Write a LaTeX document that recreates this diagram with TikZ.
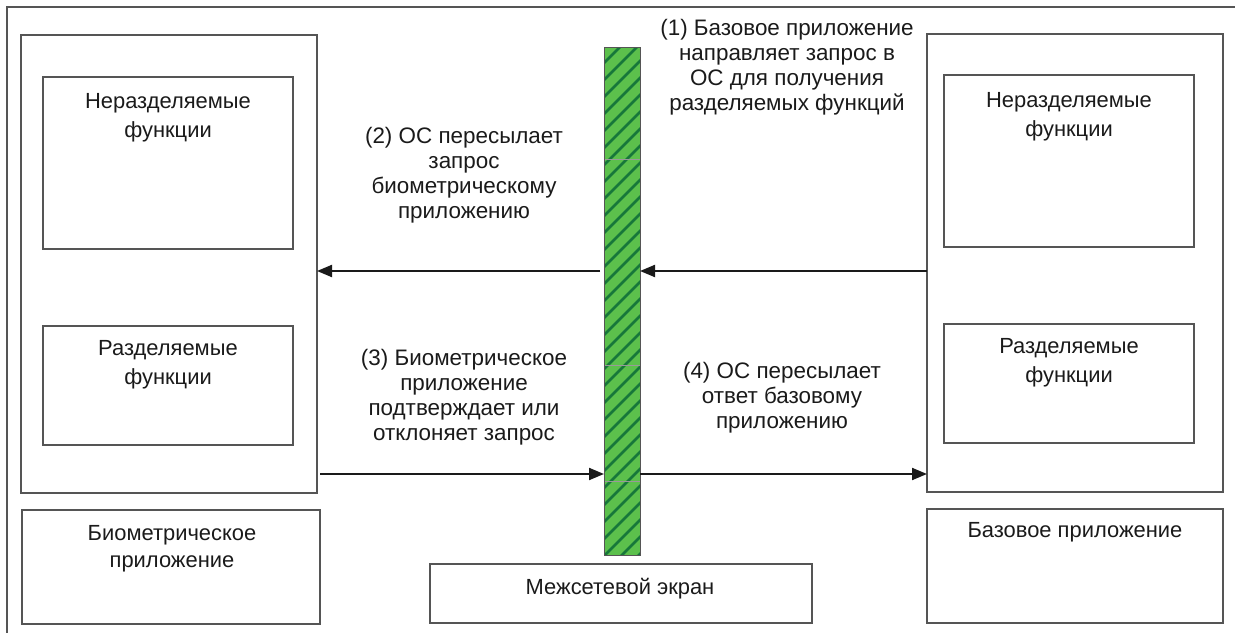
\documentclass[tikz,border=0pt]{standalone}
\usepackage{fontspec}
\setmainfont{Liberation Sans}
\usetikzlibrary{arrows.meta}
\definecolor{frame}{HTML}{555555}
\definecolor{barfill}{HTML}{5CC04C}
\definecolor{barstripe}{HTML}{17773A}
\definecolor{ink}{HTML}{1A1A1A}
\begin{document}
\begin{tikzpicture}[x=1bp,y=-1bp,
  box/.style={draw=frame,line width=1.2bp,inner sep=0pt,outer sep=0pt,anchor=north west},
  lbl/.style={font=\fontsize{22.5}{25}\selectfont,align=center,inner sep=0pt,text=ink},
  boxtext/.style={font=\fontsize{22}{29}\selectfont,align=center,inner sep=0pt,text=ink},
  flow/.style={draw=ink,line width=2bp,-{Triangle[length=15bp,width=12bp]}}]
\useasboundingbox (0,0) rectangle (1235,633);
% outer frame, only its top and left sides fall inside the page
\begin{scope}
  \clip (0,0) rectangle (1235,633);
  \draw[frame,line width=1.2bp] (7,7) rectangle (1260,660);
\end{scope}

% biometric application (left)
\node[box,minimum width=296bp,minimum height=458bp] (bio) at (21,35) {};
\node[box,minimum width=250bp,minimum height=172bp] (bionon) at (43,77) {};
\node[box,minimum width=250bp,minimum height=119bp] (bioshr) at (43,326) {};
\node[box,minimum width=298bp,minimum height=114bp] (biolbl) at (22,510) {};

% base application (right)
\node[box,minimum width=296bp,minimum height=458bp] (base) at (927,34) {};
\node[box,minimum width=250bp,minimum height=172bp] (basenon) at (944,75) {};
\node[box,minimum width=250bp,minimum height=119bp] (baseshr) at (944,324) {};
\node[box,minimum width=296bp,minimum height=114bp] (baselbl) at (927,509) {};

% firewall
\node[box,minimum width=382bp,minimum height=59bp] (fwlbl) at (430,564) {};
\node[box,draw=none,fill=barfill,minimum width=36bp,minimum height=507bp] (bar) at (604,48) {};
\begin{scope}
  \clip (604,48) rectangle (640,555);
  \foreach \y in {50,67,...,620}
    \draw[barstripe,line width=2.6bp] (600,\y) -- (644,\y-44);
  \foreach \y in {160,365,481}
    \draw[gray!80,line width=1bp] (604,\y) -- (640,\y);
\end{scope}
\draw[frame,line width=1bp] (604,48) rectangle (640,555);

% box texts
\node[boxtext] (t1) at (168,117.5) {Неразделяемые\\функции};
\node[boxtext] (t2) at (168,364.5) {Разделяемые\\функции};
\node[boxtext] (t3) at (1069,116.5) {Неразделяемые\\функции};
\node[boxtext] (t4) at (1069,362.5) {Разделяемые\\функции};
\node[font=\fontsize{22}{27}\selectfont,align=center,inner sep=0pt,text=ink] (t5) at (172,548.5) {Биометрическое\\приложение};
\node[boxtext] (t6) at (1075,532) {Базовое приложение};
\node[boxtext] (t7) at (620,589) {Межсетевой экран};

% step labels
\node[lbl] (s1) at (787,67.5) {(1) Базовое приложение\\направляет запрос в\\ОС для получения\\разделяемых функций};
\node[lbl] (s2) at (464,175.5) {(2) ОС пересылает\\запрос\\биометрическому\\приложению};
\node[lbl] (s3) at (464,397.5) {(3) Биометрическое\\приложение\\подтверждает или\\отклоняет запрос};
\node[lbl] (s4) at (782,397.5) {(4) ОС пересылает\\ответ базовому\\приложению};

% message flow
\coordinate (upper) at (0,271);
\coordinate (lower) at (0,474);
\draw[flow] (base.west |- upper) -- (bar.east |- upper);
\draw[flow,shorten <=4bp] (bar.west |- upper) -- (bio.east |- upper);
\draw[flow,shorten <=3bp] (bio.east |- lower) -- (bar.west |- lower);
\draw[flow] (bar.east |- lower) -- (base.west |- lower);
\end{tikzpicture}
\end{document}
